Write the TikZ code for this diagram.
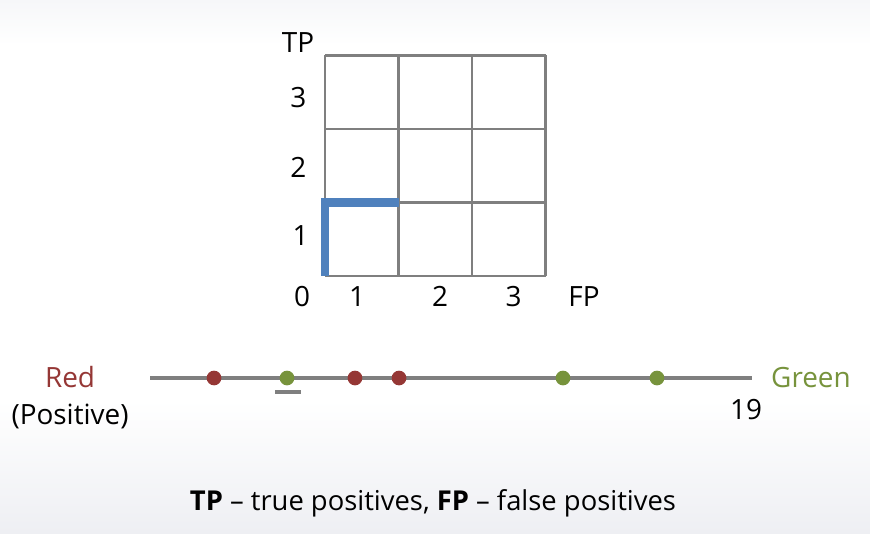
\documentclass[tikz,border=0pt]{standalone}
\usepackage{fontspec}
\setmainfont{Open Sans}
\usepackage{xcolor}
\usetikzlibrary{positioning}

\definecolor{gridgray}{HTML}{7F7F7F}
\definecolor{pathblue}{HTML}{4F81BD}
\definecolor{dotred}{HTML}{953735}
\definecolor{dotgreen}{HTML}{77933C}
\definecolor{topgray}{HTML}{F6F7F9}
\definecolor{botgray}{HTML}{EEEFF3}

\begin{document}
\begin{tikzpicture}[
        lbl/.style={font=\fontsize{10.8}{13}\selectfont, inner sep=0pt},
        reddot/.style={circle, fill=dotred, inner sep=0pt, minimum size=0.2cm},
        greendot/.style={circle, fill=dotgreen, inner sep=0pt, minimum size=0.2cm}]

                % background
                \fill[white] (-4.422,-3.497) rectangle (7.415,3.755);
                \shade[top color=topgray, bottom color=white] (-4.422,3.143) rectangle (7.415,3.755);
                \shade[top color=white, bottom color=botgray] (-4.422,-3.497) rectangle (7.415,-1.687);
                \useasboundingbox (-4.422,-3.497) rectangle (7.415,3.755);

                \draw[step=1.0, gridgray, line width=1.15pt] (0,0) grid (3,3);

                \coordinate (B0) at (0,0);
                \coordinate (B1) at (0,1);
                \coordinate (B2) at (1,1);
                \draw[pathblue, line width=3.2pt, line join=miter] (B0) -- (B1) -- (B2);

                \node[lbl] (TP)  at (-.367,3.170) {TP};
                \node[lbl] (T3)  at (-.361,2.422) {3};
                \node[lbl] (T2)  at (-.361,1.476) {2};
                \node[lbl] (T1)  at (-.333,.551)  {1};

                \node[lbl] (F0)  at (-.313,-.279) {0};
                \node[lbl] (F1)  at (.435,-.279)  {1};
                \node[lbl] (F2)  at (1.565,-.279) {2};
                \node[lbl] (F3)  at (2.565,-.279) {3};
                \node[lbl] (FP)  at (3.524,-.279) {FP};

                % ranked examples
                \coordinate (L0) at (-2.381,-1.388);
                \coordinate (L1) at (5.810,-1.388);
                \draw[gridgray, line width=1.3pt] (L0) -- (L1);

                \node[reddot]   (D1) at (-1.510,-1.388) {};
                \node[greendot] (D2) at (-.517,-1.388)  {};
                \node[reddot]   (D3) at (.408,-1.388)   {};
                \node[reddot]   (D4) at (1.007,-1.388)  {};
                \node[greendot] (D5) at (3.238,-1.388)  {};
                \node[greendot] (D6) at (4.517,-1.388)  {};

                \coordinate (U0) at (-.680,-1.578);
                \coordinate (U1) at (-.327,-1.578);
                \draw[gridgray, line width=1.5pt] (U0) -- (U1);

                \node[lbl, text=dotred]   (Red)   at (-3.469,-1.380) {Red};
                \node[lbl]                (Pos)   at (-3.469,-1.918) {(Positive)};
                \node[lbl, text=dotgreen] (Green) at (6.612,-1.380)  {Green};
                \node[lbl]                (N19)   at (5.728,-1.823)  {19};

                \node[anchor=base, inner sep=0pt, font=\fontsize{10.6}{12}\selectfont] (Cap) at (1.469,-3.193)
                    {\textbf{TP} – true positives, \textbf{FP} – false positives};
            \end{tikzpicture}
\end{document}
